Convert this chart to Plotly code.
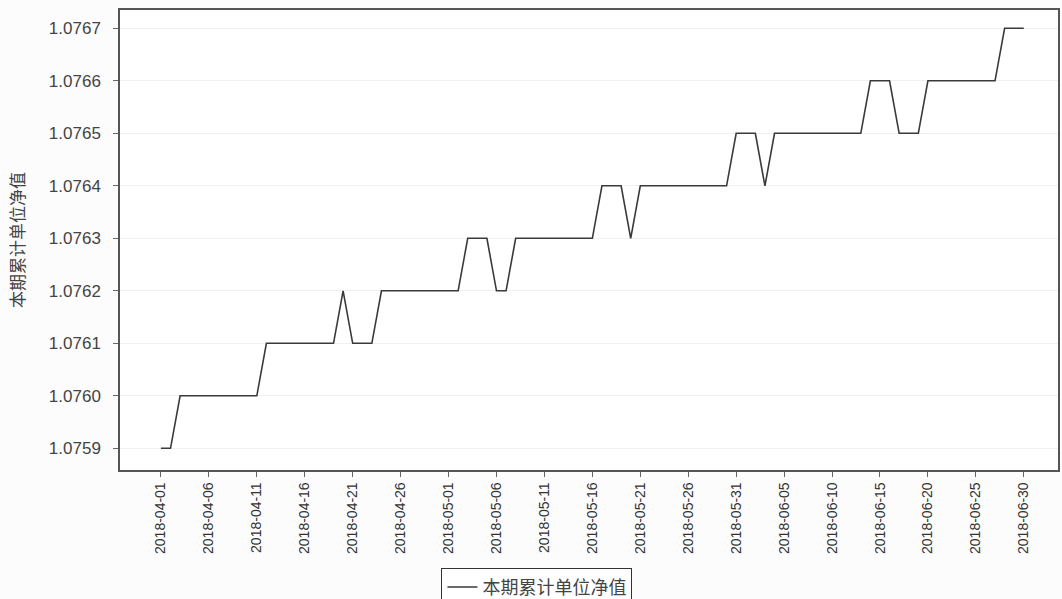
import pandas as pd
import plotly.graph_objects as go

# Daily dates 2018-04-01 .. 2018-06-30
dates = [d.strftime("%Y-%m-%d") for d in pd.date_range("2018-04-01", "2018-06-30", freq="D")]

# 本期累计单位净值 (one value per day)
nav = [
    1.0759, 1.0759,                                                  # 04-01..04-02
    1.0760, 1.0760, 1.0760, 1.0760, 1.0760, 1.0760, 1.0760, 1.0760, 1.0760,  # 04-03..04-11
    1.0761, 1.0761, 1.0761, 1.0761, 1.0761, 1.0761, 1.0761, 1.0761,  # 04-12..04-19
    1.0762,                                                          # 04-20
    1.0761, 1.0761, 1.0761,                                          # 04-21..04-23
    1.0762, 1.0762, 1.0762, 1.0762, 1.0762, 1.0762, 1.0762, 1.0762, 1.0762,  # 04-24..05-02
    1.0763, 1.0763, 1.0763,                                          # 05-03..05-05
    1.0762, 1.0762,                                                  # 05-06..05-07
    1.0763, 1.0763, 1.0763, 1.0763, 1.0763, 1.0763, 1.0763, 1.0763, 1.0763,  # 05-08..05-16
    1.0764, 1.0764, 1.0764,                                          # 05-17..05-19
    1.0763,                                                          # 05-20
    1.0764, 1.0764, 1.0764, 1.0764, 1.0764, 1.0764, 1.0764, 1.0764, 1.0764, 1.0764,  # 05-21..05-30
    1.0765, 1.0765, 1.0765,                                          # 05-31..06-02
    1.0764,                                                          # 06-03
    1.0765, 1.0765, 1.0765, 1.0765, 1.0765, 1.0765, 1.0765, 1.0765, 1.0765, 1.0765,  # 06-04..06-13
    1.0766, 1.0766, 1.0766,                                          # 06-14..06-16
    1.0765, 1.0765, 1.0765,                                          # 06-17..06-19
    1.0766, 1.0766, 1.0766, 1.0766, 1.0766, 1.0766, 1.0766, 1.0766,  # 06-20..06-27
    1.0767, 1.0767, 1.0767,                                          # 06-28..06-30
]

x_ticks = ["2018-04-01", "2018-04-06", "2018-04-11", "2018-04-16", "2018-04-21",
           "2018-04-26", "2018-05-01", "2018-05-06", "2018-05-11", "2018-05-16",
           "2018-05-21", "2018-05-26", "2018-05-31", "2018-06-05", "2018-06-10",
           "2018-06-15", "2018-06-20", "2018-06-25", "2018-06-30"]
y_ticks = [1.0759, 1.0760, 1.0761, 1.0762, 1.0763, 1.0764, 1.0765, 1.0766, 1.0767]

series_name = "本期累计单位净值"

fig = go.Figure()
fig.add_trace(go.Scatter(
    x=dates, y=nav, mode="lines", name=series_name,
    line=dict(color="#3a3a3a", width=1.6),
))

fig.update_layout(
    width=1062, height=599,
    margin=dict(l=120, r=2, t=10, b=129),
    paper_bgcolor="#fcfcfc", plot_bgcolor="#ffffff",
    showlegend=True,
    legend=dict(
        orientation="h", xref="container", yref="container",
        x=0.5056, xanchor="center", y=0.052, yanchor="top",
        bordercolor="#333333", borderwidth=1, bgcolor="#ffffff",
        font=dict(family="Noto Sans CJK SC", size=18, color="#444444"),
        itemwidth=30,
    ),
)

fig.update_xaxes(
    type="date",
    range=["2018-03-27 17:30", "2018-07-03 13:40"],
    tickvals=x_ticks, ticktext=x_ticks, tickangle=-90,
    tickfont=dict(family="Liberation Sans", size=14, color="#333333"),
    ticks="outside", ticklen=5, tickcolor="#666666",
    showline=True, linecolor="#555555", linewidth=1.5, mirror=True,
    showgrid=False, zeroline=False,
)
fig.update_yaxes(
    range=[1.07585867, 1.07673486],
    tickvals=y_ticks, tickformat=".4f",
    tickfont=dict(family="Liberation Sans", size=17, color="#444444"),
    ticks="outside", ticklen=5, tickcolor="#666666",
    ticklabelstandoff=9,
    showline=True, linecolor="#555555", linewidth=1.5, mirror=True,
    showgrid=True, gridcolor="#f0f0f0", gridwidth=1,
    zeroline=False,
    title=dict(text=series_name, standoff=20,
               font=dict(family="Noto Sans CJK SC", size=17, color="#444444")),
)

fig.write_html("out.html", config={"displayModeBar": False},
               post_script="document.body.style.margin='0';")
